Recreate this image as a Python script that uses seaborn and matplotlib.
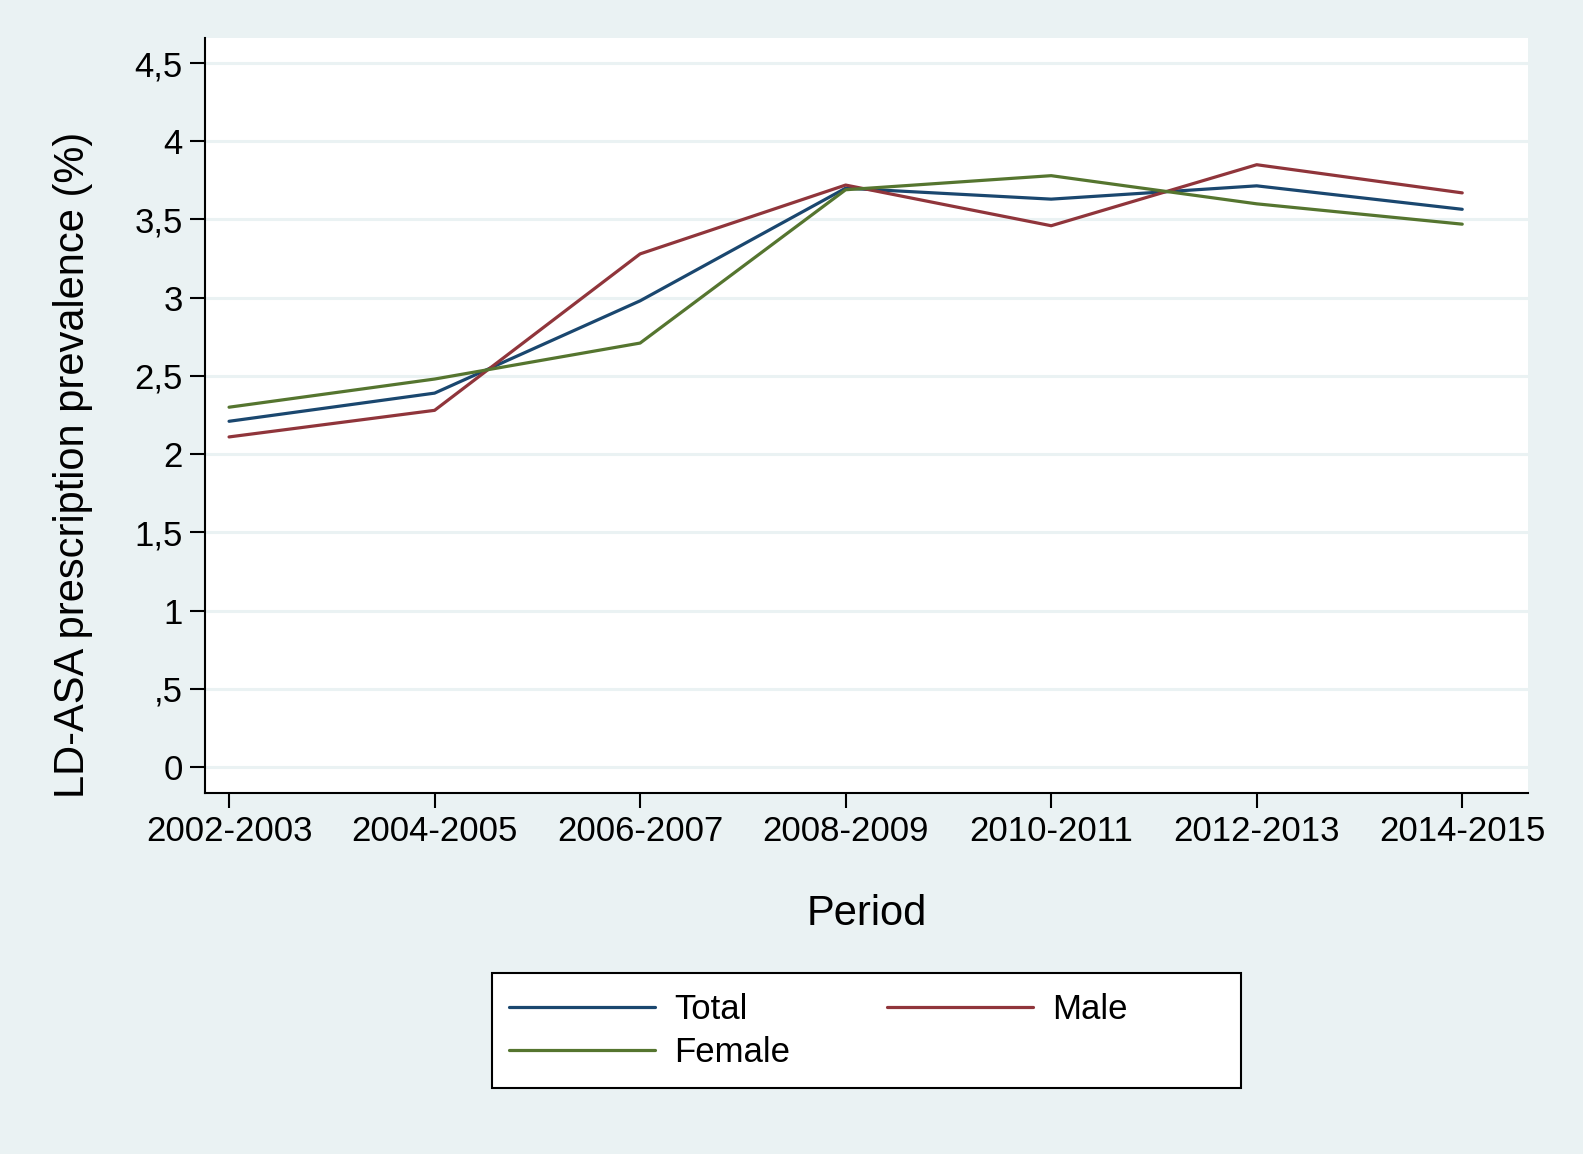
import matplotlib
matplotlib.use("Agg")
import matplotlib.pyplot as plt
import seaborn as sns
import pandas as pd
from matplotlib.lines import Line2D
from matplotlib.patches import Rectangle

periods = ["2002-2003", "2004-2005", "2006-2007", "2008-2009", "2010-2011", "2012-2013", "2014-2015"]
total = [2.21, 2.39, 2.98, 3.70, 3.63, 3.715, 3.565]
male = [2.11, 2.28, 3.28, 3.72, 3.46, 3.85, 3.67]
female = [2.30, 2.48, 2.71, 3.69, 3.78, 3.60, 3.47]
series_names = ["Total", "Male", "Female"]
y_ticks = [0, 0.5, 1, 1.5, 2, 2.5, 3, 3.5, 4, 4.5]
y_tick_labels = ["0", ",5", "1", "1,5", "2", "2,5", "3", "3,5", "4", "4,5"]

colors = {"Total": "#1a476f", "Male": "#90353b", "Female": "#55752f"}
bg = "#eaf2f3"

df = pd.DataFrame({
    "Period": periods * 3,
    "value": total + male + female,
    "series": [s for s in series_names for _ in periods],
})

sns.set_theme(style="white")
plt.rcParams["font.family"] = ["Liberation Sans", "DejaVu Sans"]

fig = plt.figure(figsize=(15.83, 11.54), dpi=100, facecolor=bg)
ax = fig.add_axes([205/1583, 1-793/1154, 1323/1583, 755/1154])
ax.set_facecolor("white")

sns.lineplot(data=df, x="Period", y="value", hue="series", hue_order=series_names,
             palette=colors, linewidth=2.3, ax=ax, sort=False, legend=False)

ax.set_xlim(-0.117, 6.32)
ax.set_ylim(-0.166, 4.66)
ax.set_yticks(y_ticks)
ax.set_yticklabels(y_tick_labels)
ax.grid(axis="y", color=bg, linewidth=2.2)
ax.grid(axis="x", visible=False)
ax.set_axisbelow(True)

for s in ["top", "right"]:
    ax.spines[s].set_visible(False)
for s in ["left", "bottom"]:
    ax.spines[s].set_color("black")
    ax.spines[s].set_linewidth(1.5)

ax.tick_params(axis="both", direction="out", length=11, width=1.5, color="black",
               labelsize=25, labelcolor="black", pad=5, left=True, bottom=True)

ax.set_xlabel("Period", fontsize=30, color="black", labelpad=33)
ax.set_ylabel("LD-ASA prescription prevalence (%)", fontsize=30, color="black")
ax.yaxis.set_label_coords(-0.085, 0.434)

# legend frame (Stata-style wide box)
fig.patches.append(Rectangle((492/1583, 1-1088/1154), 749/1583, 115/1154,
                             transform=fig.transFigure, facecolor="white",
                             edgecolor="black", linewidth=1.5, zorder=1))

handles = [Line2D([], [], color=colors[n], lw=2.3) for n in ["Total", "Female", "Male"]]
labels = ["Total", "Female", "Male"]
leg = fig.legend(handles, labels, ncol=2, loc="center left",
                 bbox_to_anchor=(509/1583, 1-1031/1154),
                 fontsize=25, frameon=False,
                 handlelength=4.2, handletextpad=0.55, columnspacing=2.8,
                 labelspacing=0.27, borderpad=0, borderaxespad=0)
leg.set_zorder(5)
for t in leg.get_texts():
    t.set_color("black")

fig.savefig("out.png", dpi=100, facecolor=bg)
